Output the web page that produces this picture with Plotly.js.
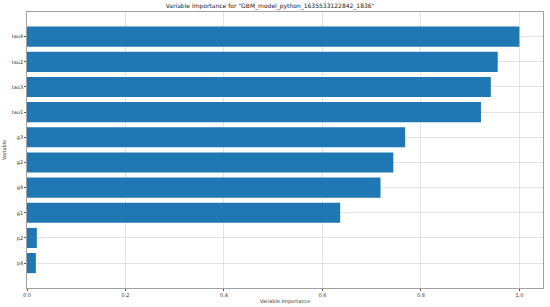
<!DOCTYPE html>
<html>
<head>
<meta charset="utf-8">
<script src="https://cdn.plot.ly/plotly-3.0.1.min.js"></script>
<style>
  html, body { margin: 0; padding: 0; background: #fff; }
  #plot { width: 550px; height: 307px; }
</style>
</head>
<body>
<div id="plot"></div>
<script>
// bottom to top, as drawn
var variables = ["p4", "p2", "g1", "g4", "g2", "g3", "tau1", "tau3", "tau2", "tau4"];
var importance = [0.018, 0.020, 0.636, 0.718, 0.744, 0.768, 0.922, 0.942, 0.956, 1.0];
var xTicks = [0, 0.2, 0.4, 0.6, 0.8, 1.0];
var xTickText = ["0.0", "0.2", "0.4", "0.6", "0.8", "1.0"];

var font = "DejaVu Sans, sans-serif";

var trace = {
  type: "bar",
  orientation: "h",
  y: variables,
  x: importance,
  marker: { color: "#1f77b4", line: { width: 0 } },
  hoverinfo: "x+y"
};

var layout = {
  width: 550,
  height: 307,
  margin: { l: 27, r: 7, t: 12, b: 19 },
  paper_bgcolor: "#fff",
  plot_bgcolor: "#fff",
  bargap: 0.2,
  showlegend: false,
  font: { family: font, size: 5, color: "#333" },
  title: {
    text: 'Variable Importance for "GBM_model_python_1635533122842_1836"',
    font: { family: font, size: 6, color: "#222" },
    x: 0.491, xref: "container", xanchor: "center",
    y: 0.98, yref: "container", yanchor: "middle"
  },
  xaxis: {
    range: [0, 1.048],
    tickvals: xTicks,
    ticktext: xTickText,
    showgrid: true,
    gridcolor: "#dcdcdc",
    gridwidth: 0.8,
    zeroline: false,
    showline: true,
    mirror: true,
    linecolor: "#8a8a8a",
    linewidth: 0.8,
    ticks: "outside",
    ticklen: 2,
    tickcolor: "#555",
    tickfont: { family: font, size: 5, color: "#333" },
    title: { text: "Variable Importance", font: { family: font, size: 5, color: "#333" }, standoff: 2 }
  },
  yaxis: {
    type: "category",
    range: [-0.99, 9.98],
    showgrid: true,
    gridcolor: "#dcdcdc",
    gridwidth: 0.8,
    zeroline: false,
    showline: true,
    mirror: true,
    linecolor: "#8a8a8a",
    linewidth: 0.8,
    ticks: "outside",
    ticklen: 2,
    tickcolor: "#555",
    tickfont: { family: font, size: 5, color: "#333" },
    title: { text: "Variable", font: { family: font, size: 5, color: "#333" }, standoff: 4 }
  }
};

Plotly.newPlot("plot", [trace], layout, { displayModeBar: false, staticPlot: true });
</script>
</body>
</html>
